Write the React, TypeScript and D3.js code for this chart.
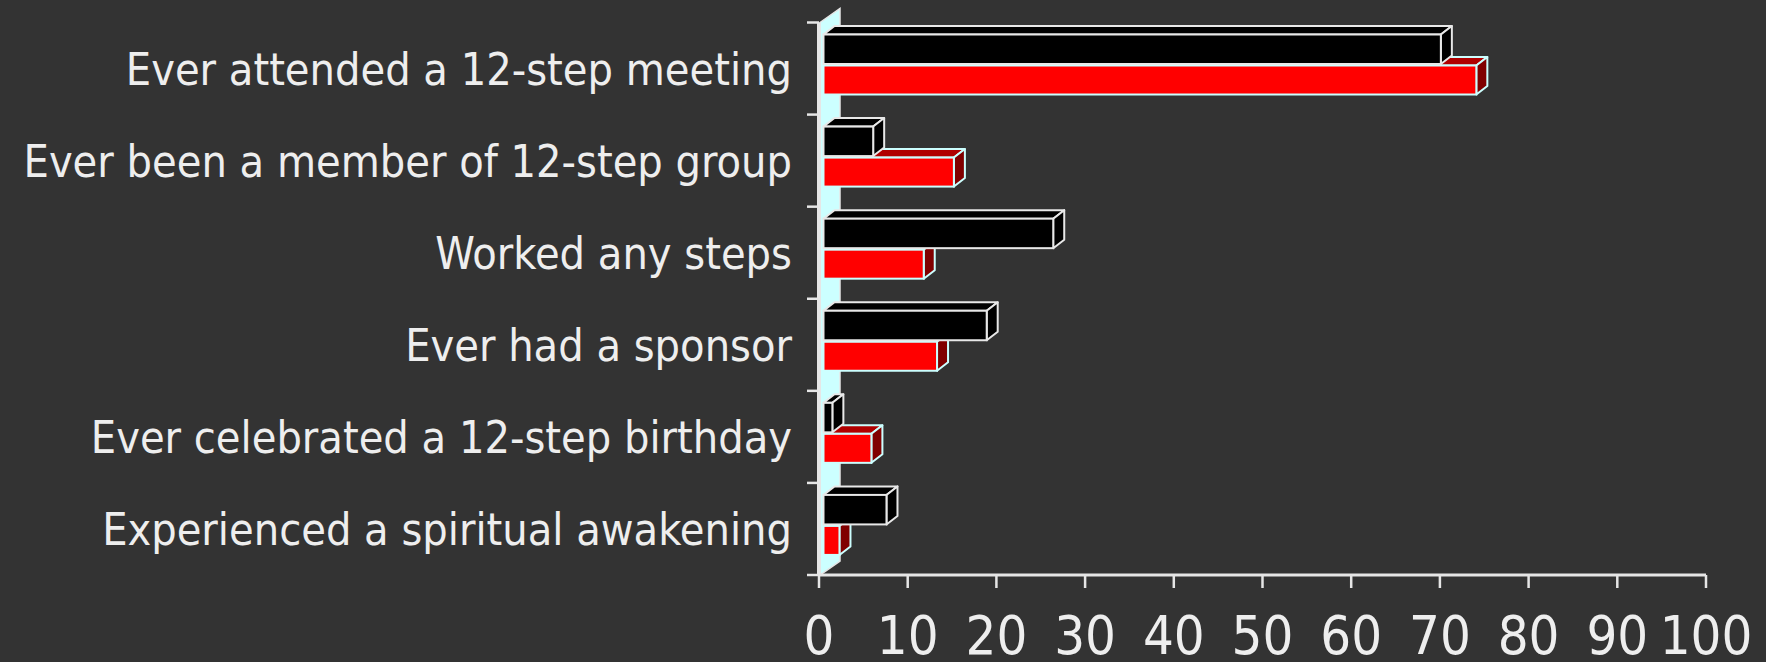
import React from "react";
import * as d3 from "d3";

const categories = [
  "Ever attended a 12-step meeting",
  "Ever been a member of 12-step group",
  "Worked any steps",
  "Ever had a sponsor",
  "Ever celebrated a 12-step birthday",
  "Experienced a spiritual awakening",
];
const seriesBlack = [69.6, 5.6, 25.9, 18.4, 1.0, 7.1];
const seriesRed = [73.6, 14.7, 11.3, 12.8, 5.4, 1.8];
const xTicks = [0, 10, 20, 30, 40, 50, 60, 70, 80, 90, 100];

const W = 1766;
const H = 662;
const FONT = "'DejaVu Sans Condensed', 'DejaVu Sans', sans-serif";

export default function App() {
  const x = d3.scaleLinear().domain([0, 100]).range([819, 1706]);
  const y = d3.scaleBand<string>().domain(categories).range([22.5, 575]).padding(0);
  const dx = 11;
  const dy = -8.5;
  const shift = 4.5;
  const wallDx = 20;
  const wallDy = -14;
  const axisY = 575;
  const axisX = 819;

  const bar3d = (x0: number, x1: number, yt: number, h: number, front: string, top: string, side: string, stroke: string, key: string) => {
    const pts = (a: [number, number][]) => a.map((p) => p.join(",")).join(" ");
    return (
      <g key={key}>
        <polygon points={pts([[x0, yt], [x0 + dx, yt + dy], [x1 + dx, yt + dy], [x1, yt]])} fill={top} stroke={stroke} strokeWidth={2} strokeLinejoin="round" />
        <polygon points={pts([[x1, yt], [x1 + dx, yt + dy], [x1 + dx, yt + h + dy], [x1, yt + h]])} fill={side} stroke={stroke} strokeWidth={2} strokeLinejoin="round" />
        <rect x={x0} y={yt} width={x1 - x0} height={h} fill={front} stroke={stroke} strokeWidth={2} />
      </g>
    );
  };

  return (
    <svg width={W} height={H} style={{ position: "absolute", left: 0, top: 0, display: "block" }}>
      <rect x={0} y={0} width={W} height={H} fill="#333333" />
      {/* wall */}
      <polygon
        points={[
          [axisX + 1, y.range()[0]],
          [axisX + 1 + wallDx, y.range()[0] + wallDy],
          [axisX + 1 + wallDx, axisY + wallDy],
          [axisX + 1, axisY],
        ].map((p) => p.join(",")).join(" ")}
        fill="#ccffff"
        stroke="#e6e6e6"
        strokeWidth={1.5}
      />
      {/* y axis line and ticks */}
      <line x1={axisX} x2={axisX} y1={y.range()[0]} y2={axisY} stroke="#e6e6e6" strokeWidth={4} />
      {categories.map((c) => (
        <line key={"yt" + c} x1={807} x2={axisX} y1={y(c)!} y2={y(c)!} stroke="#e6e6e6" strokeWidth={2.5} />
      ))}
      <line x1={807} x2={axisX} y1={axisY} y2={axisY} stroke="#e6e6e6" strokeWidth={2.5} />
      {/* bars */}
      {categories.map((c, i) => {
        const t = y(c)!;
        const x0 = x(0) + shift;
        return (
          <g key={"g" + c}>
            {bar3d(x0, x(seriesRed[i]) + shift, t + 43, 29, "#ff0000", "#b00000", "#800000", "#ccffff", "r" + i)}
            {bar3d(x0, x(seriesBlack[i]) + shift, t + 12, 29.5, "#000000", "#000000", "#000000", "#e8e8e8", "b" + i)}
          </g>
        );
      })}
      {/* x axis */}
      <line x1={axisX} x2={x(100)} y1={axisY} y2={axisY} stroke="#e6e6e6" strokeWidth={3} />
      {xTicks.map((v) => (
        <g key={"xt" + v}>
          <line x1={x(v)} x2={x(v)} y1={axisY} y2={axisY + 13} stroke="#e6e6e6" strokeWidth={2.5} />
          <text x={x(v)} y={654} textAnchor="middle" fontFamily={FONT} fontSize={54} fill="#eeeeee">
            {v}
          </text>
        </g>
      ))}
      {/* category labels */}
      {categories.map((c) => (
        <text key={"l" + c} x={792} y={y(c)! + 62} textAnchor="end" fontFamily={FONT} fontSize={44.6} fill="#eeeeee">
          {c}
        </text>
      ))}
    </svg>
  );
}
